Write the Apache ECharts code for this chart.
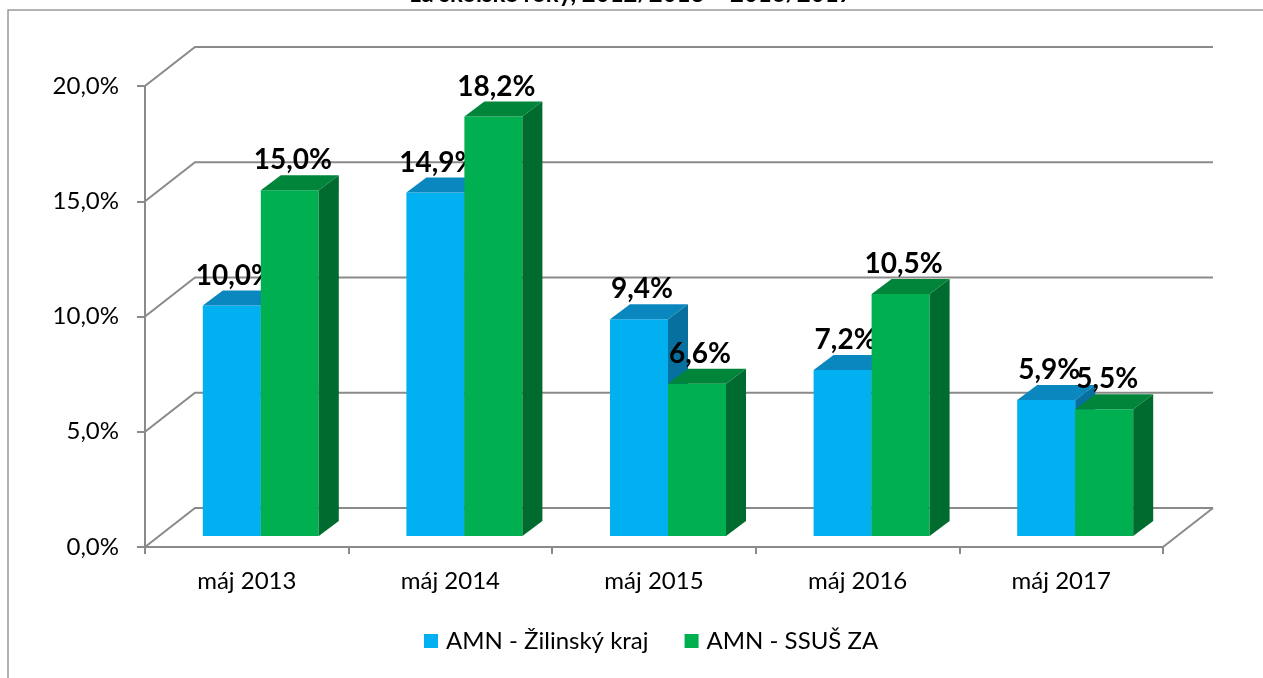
<!DOCTYPE html>
<html>
<head>
<meta charset="utf-8">
<script src="https://cdn.jsdelivr.net/npm/echarts@6/dist/echarts.min.js"></script>
<style>
  html, body { margin: 0; padding: 0; background: #fff; }
  #main { width: 1263px; height: 678px; }
</style>
</head>
<body>
<div id="main"></div>
<script>
var categories = ['máj 2013', 'máj 2014', 'máj 2015', 'máj 2016', 'máj 2017'];
var krajValues = [10.0, 14.9, 9.4, 7.2, 5.9];
var ssusValues = [15.0, 18.2, 6.6, 10.5, 5.5];
var yTicks = [0, 5, 10, 15, 20];
var seriesNames = ['AMN - Žilinský kraj', 'AMN - SSUŠ ZA'];

var FONT = 'Lato, "Open Sans", sans-serif';
var GRID_COLOR = '#8a8a8a';

// 3D look: walls are shifted back by (WALL_DX, WALL_DY), bars stand a bit inside
var WALL_DX = 50, WALL_DY = -39;
var BAR_DX = 14, BAR_DY = -11;
var DEPTH_DX = 20, DEPTH_DY = -15;
var BAR_W = 58;

var palette = [
    { front: '#00B0F0', top: '#0A87BF', side: '#08709F' },
    { front: '#00B050', top: '#00853B', side: '#006B2E' }
];

function fmt(v) {
    return v.toFixed(1).replace('.', ',') + '%';
}

function wallItem(params, api) {
    var cs = params.coordSys;
    var y = api.coord([0, api.value(1)])[1];
    var x0 = cs.x, x1 = cs.x + cs.width;
    var children = [{
        type: 'polyline',
        shape: { points: [[x0, y], [x0 + WALL_DX, y + WALL_DY], [x1 + WALL_DX, y + WALL_DY]] },
        style: { stroke: GRID_COLOR, lineWidth: 2, fill: null }
    }];
    if (api.value(1) === 0) {
        children.push({
            type: 'line',
            shape: { x1: x1, y1: y, x2: x1 + WALL_DX, y2: y + WALL_DY },
            style: { stroke: GRID_COLOR, lineWidth: 2 }
        });
    }
    return { type: 'group', children: children };
}

function makeBarRenderer(idx) {
    var col = palette[idx];
    return function (params, api) {
        var cat = api.value(0), val = api.value(1);
        var base = api.coord([cat, 0]);
        var top = api.coord([cat, val]);
        var xl = base[0] + BAR_DX - BAR_W + idx * BAR_W;
        var xr = xl + BAR_W;
        var yb = base[1] + BAR_DY;
        var yt = top[1] + BAR_DY;
        return {
            type: 'group',
            children: [
                {
                    type: 'rect',
                    shape: { x: xl, y: yt, width: BAR_W, height: yb - yt },
                    style: { fill: col.front }
                },
                {
                    type: 'polygon',
                    shape: { points: [[xl, yt], [xl + DEPTH_DX, yt + DEPTH_DY], [xr + DEPTH_DX, yt + DEPTH_DY], [xr, yt]] },
                    style: { fill: col.top }
                },
                {
                    type: 'polygon',
                    shape: { points: [[xr, yt], [xr + DEPTH_DX, yt + DEPTH_DY], [xr + DEPTH_DX, yb + DEPTH_DY], [xr, yb]] },
                    style: { fill: col.side }
                },
                {
                    type: 'text',
                    z2: 10,
                    style: {
                        x: (xl + xr) / 2 + 3,
                        y: yt + DEPTH_DY - 1,
                        text: fmt(val),
                        align: 'center',
                        verticalAlign: 'bottom',
                        font: 'bold 28px ' + FONT,
                        fill: '#000'
                    }
                }
            ]
        };
    };
}

var myChart = echarts.init(document.getElementById('main'));

var option = {
    animation: false,
    title: {
        text: 'za školské roky, 2012/2013 – 2016/2017',
        left: 'center',
        top: -23,
        textStyle: { fontFamily: FONT, fontSize: 24, fontWeight: 'bold', color: '#000' }
    },
    graphic: [
        {
            type: 'polyline',
            shape: { points: [[8, 678], [8, 10], [1263, 10]] },
            style: { stroke: '#9a9a9a', lineWidth: 1.5, fill: null }
        }
    ],
    legend: {
        data: seriesNames,
        bottom: 20,
        left: 419,
        icon: 'rect',
        itemWidth: 14,
        itemHeight: 14,
        itemGap: 36,
        textStyle: { fontFamily: FONT, fontSize: 24, color: '#000', padding: [0, 0, 0, 3] }
    },
    grid: { left: 145, top: 86, width: 1018, height: 461 },
    xAxis: {
        type: 'category',
        data: categories,
        axisLine: { lineStyle: { color: GRID_COLOR, width: 2 } },
        axisTick: { show: true, alignWithLabel: false, length: 7, lineStyle: { color: GRID_COLOR, width: 2 } },
        axisLabel: { margin: 22, fontFamily: FONT, fontSize: 24, color: '#000' },
        splitLine: { show: false }
    },
    yAxis: {
        type: 'value',
        min: 0,
        max: 20,
        interval: 5,
        axisLine: { show: true, lineStyle: { color: GRID_COLOR, width: 2 } },
        axisTick: { show: true, length: 8, lineStyle: { color: GRID_COLOR, width: 2 } },
        axisLabel: { margin: 26, fontFamily: FONT, fontSize: 24, color: '#000', formatter: fmt },
        splitLine: { show: false }
    },
    series: [
        {
            type: 'custom',
            silent: true,
            z: 1,
            renderItem: wallItem,
            data: yTicks.map(function (v) { return [0, v]; })
        },
        {
            name: seriesNames[0],
            type: 'custom',
            z: 2,
            itemStyle: { color: palette[0].front },
            renderItem: makeBarRenderer(0),
            data: krajValues.map(function (v, i) { return [i, v]; })
        },
        {
            name: seriesNames[1],
            type: 'custom',
            z: 3,
            itemStyle: { color: palette[1].front },
            renderItem: makeBarRenderer(1),
            data: ssusValues.map(function (v, i) { return [i, v]; })
        }
    ]
};

myChart.setOption(option);
</script>
</body>
</html>
